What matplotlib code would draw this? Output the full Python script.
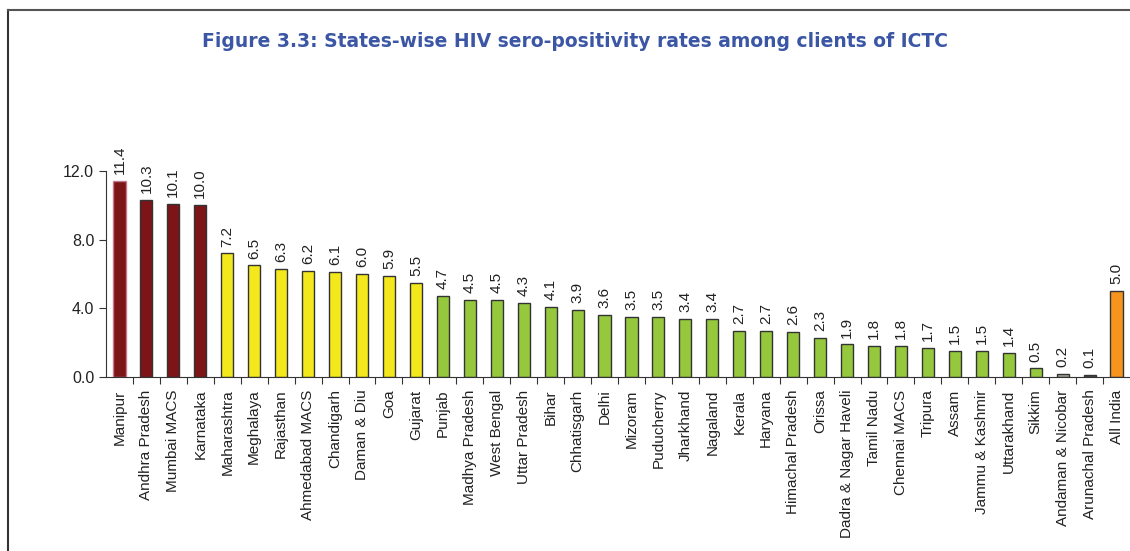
import matplotlib
matplotlib.use("Agg")
import matplotlib.pyplot as plt
from matplotlib.lines import Line2D

states = ["Manipur", "Andhra Pradesh", "Mumbai MACS", "Karnataka", "Maharashtra",
          "Meghalaya", "Rajasthan", "Ahmedabad MACS", "Chandigarh", "Daman & Diu",
          "Goa", "Gujarat", "Punjab", "Madhya Pradesh", "West Bengal", "Uttar Pradesh",
          "Bihar", "Chhatisgarh", "Delhi", "Mizoram", "Puducherry", "Jharkhand",
          "Nagaland", "Kerala", "Haryana", "Himachal Pradesh", "Orissa",
          "Dadra & Nagar Haveli", "Tamil Nadu", "Chennai MACS", "Tripura", "Assam",
          "Jammu & Kashmir", "Uttarakhand", "Sikkim", "Andaman & Nicobar",
          "Arunachal Pradesh", "All India"]
rates = [11.4, 10.3, 10.1, 10.0, 7.2, 6.5, 6.3, 6.2, 6.1, 6.0, 5.9, 5.5, 4.7, 4.5,
         4.5, 4.3, 4.1, 3.9, 3.6, 3.5, 3.5, 3.4, 3.4, 2.7, 2.7, 2.6, 2.3, 1.9, 1.8,
         1.8, 1.7, 1.5, 1.5, 1.4, 0.5, 0.2, 0.1, 5.0]
groups = ["high"] * 4 + ["mid"] * 8 + ["low"] * 23 + ["grey", "dark", "india"]

fill = {"high": "#7d1518", "mid": "#f3e81c", "low": "#95c83c",
        "grey": "#a4a593", "dark": "#4a4a4a", "india": "#f7941d"}
yticks = [0, 4, 8, 12]

plt.rcParams["font.family"] = ["Liberation Sans", "DejaVu Sans"]

fig = plt.figure(figsize=(11.30, 5.51), dpi=100)
ax = fig.add_axes([0.0938, 0.3158, 0.9062, 0.3739])

x = range(len(states))
colors = [fill[g] for g in groups]
edges = ["#c47a92"] + ["#333333"] * (len(states) - 1)
ax.bar(x, rates, width=0.45, color=colors, edgecolor=edges, linewidth=1.0)

for i, v in enumerate(rates):
    ax.text(i, v + 0.4, f"{v:.1f}", rotation=90, ha="center", va="bottom",
            fontsize=11, color="#222222", clip_on=False)

ax.set_xlim(-0.5, len(states) - 0.5)
ax.set_ylim(0, 12)
ax.set_yticks(yticks)
ax.set_yticklabels([f"{t:.1f}" for t in yticks], fontsize=11.5, color="#222222")
ax.set_xticks([i - 0.5 for i in range(1, len(states))], minor=False)
ax.set_xticklabels([])
ax.set_xticks(list(x), minor=True)
ax.set_xticklabels(states, minor=True, rotation=90, fontsize=11, color="#222222")
ax.tick_params(axis="x", which="major", direction="out", length=5, color="#333333")
ax.tick_params(axis="x", which="minor", length=0, pad=9)
ax.tick_params(axis="y", direction="out", length=5, color="#333333")

for side in ("top", "right"):
    ax.spines[side].set_visible(False)
for side in ("left", "bottom"):
    ax.spines[side].set_color("#333333")

fig.text(0.509, 0.925, "Figure 3.3: States-wise HIV sero-positivity rates among clients of ICTC",
         ha="center", va="center", fontsize=13.5, fontweight="bold", color="#3a56a5",
         family="DejaVu Sans")

# frame lines along the top and left edges
fig.add_artist(Line2D([0.0075, 0.0075], [0.0, 0.982], color="#333333", lw=1.5))
fig.add_artist(Line2D([0.0075, 1.0], [0.982, 0.982], color="#555555", lw=1.5))

fig.savefig("out.png", dpi=100)
